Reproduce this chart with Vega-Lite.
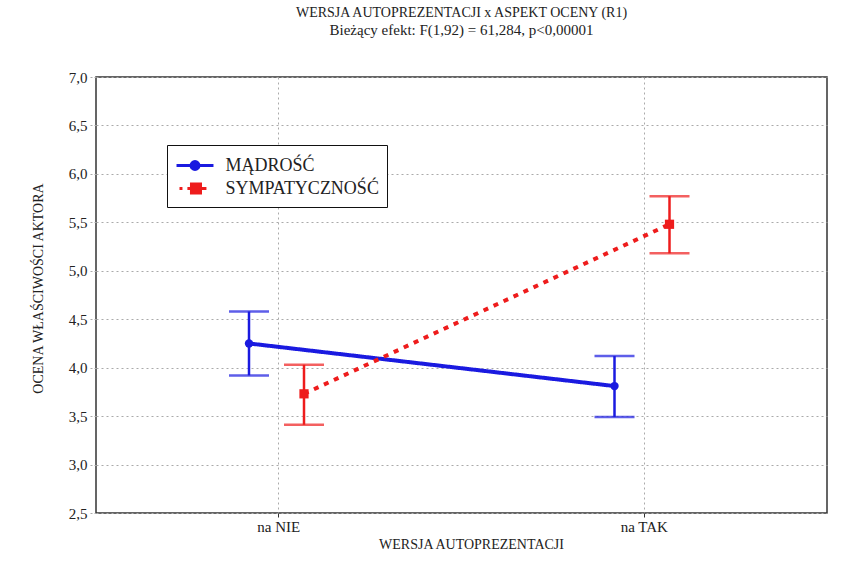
{
  "$schema": "https://vega.github.io/schema/vega-lite/v6.json",
  "width": 731,
  "height": 436,
  "autosize": {"type": "none"},
  "padding": {"left": 96, "top": 77, "right": 22, "bottom": 53},
  "background": "white",
  "title": {
    "text": "WERSJA AUTOPREZENTACJI x ASPEKT OCENY (R1)",
    "subtitle": "Bieżący efekt: F(1,92) = 61,284, p<0,00001",
    "font": "Liberation Serif",
    "fontSize": 14,
    "fontWeight": "normal",
    "subtitleFont": "Liberation Serif",
    "subtitleFontSize": 15,
    "color": "#222",
    "subtitleColor": "#222",
    "anchor": "middle",
    "offset": 32,
    "subtitlePadding": 3
  },
  "config": {
    "view": {"stroke": "#333", "strokeWidth": 1.5},
    "axis": {
      "labelFont": "Liberation Serif",
      "titleFont": "Liberation Serif",
      "labelColor": "#222",
      "titleColor": "#222",
      "titleFontWeight": "normal"
    }
  },
  "data": {
    "values": [
      {"aspekt": "MĄDROŚĆ", "wersja": "na NIE", "mean": 4.25, "lower": 3.92, "upper": 4.58},
      {"aspekt": "MĄDROŚĆ", "wersja": "na TAK", "mean": 3.81, "lower": 3.49, "upper": 4.12},
      {"aspekt": "SYMPATYCZNOŚĆ", "wersja": "na NIE", "mean": 3.73, "lower": 3.41, "upper": 4.03},
      {"aspekt": "SYMPATYCZNOŚĆ", "wersja": "na TAK", "mean": 5.48, "lower": 5.18, "upper": 5.77}
    ]
  },
  "encoding": {
    "x": {
      "field": "wersja",
      "type": "nominal",
      "scale": {"paddingInner": 0, "paddingOuter": 0},
      "axis": {
        "title": "WERSJA AUTOPREZENTACJI",
        "bandPosition": 0.5,
        "labelAngle": 0,
        "labelFontSize": 15,
        "titleFontSize": 14,
        "labelPadding": 2,
        "titlePadding": 3,
        "titleX": 375,
        "tickSize": 4,
        "tickColor": "#333",
        "domain": false,
        "grid": true,
        "gridDash": [2, 3],
        "gridColor": "#aaa"
      }
    },
    "xOffset": {"field": "aspekt", "type": "nominal", "scale": {"type": "point", "padding": 0, "range": [153, 208]}},
    "color": {
      "field": "aspekt",
      "type": "nominal",
      "scale": {"range": ["#1a1ae0", "#ee1c1c"]},
      "legend": {
        "title": null,
        "orient": "none",
        "legendX": 71,
        "legendY": 68,
        "fillColor": "white",
        "strokeColor": "#111",
        "padding": 8,
        "labelFont": "Liberation Serif",
        "labelFontSize": 18,
        "labelColor": "#222",
        "labelOffset": 18,
        "symbolOffset": 7.5,
        "rowPadding": 0,
        "symbolSize": 484,
        "symbolStrokeWidth": 3,
        "labelLimit": 300,
        "encoding": {
          "symbols": {
            "shape": {"value": {"expr": "datum.value == 'MĄDROŚĆ' ? 'M-1.68,0H1.68M-0.36,0A0.36,0.36,0,1,1,0.36,0A0.36,0.36,0,1,1,-0.36,0Z' : 'M-1.41,0H-1.14M-0.69,0H1.04M-0.32,-0.4H0.5V0.4H-0.32Z'"}},
            "stroke": {"value": {"expr": "scale('color', datum.value)"}},
            "fill": {"value": {"expr": "scale('color', datum.value)"}}
          }
        }
      }
    }
  },
  "layer": [
    {
      "mark": {"type": "rule", "strokeWidth": 2.5},
      "encoding": {
        "y": {
          "field": "lower",
          "type": "quantitative",
          "scale": {"domain": [2.5, 7], "nice": false, "zero": false},
          "axis": {
            "title": "OCENA WŁAŚCIWOŚCI AKTORA",
            "values": [2.5, 3, 3.5, 4, 4.5, 5, 5.5, 6, 6.5, 7],
            "labelExpr": "replace(format(datum.value, '.1f'), '.', ',')",
            "labelFontSize": 15,
            "titleFontSize": 14,
            "labelPadding": 3,
            "tickSize": 6,
            "tickDash": [2, 2],
            "tickColor": "#aaa",
            "domain": false,
            "grid": true,
            "gridDash": [2, 3],
            "gridColor": "#aaa",
            "titleX": -58,
            "titleY": 211,
            "titleAngle": -90,
            "titleAlign": "center",
            "titleBaseline": "middle"
          }
        },
        "y2": {"field": "upper"}
      }
    },
    {
      "mark": {"type": "tick", "thickness": 2.5, "size": 40},
      "encoding": {
        "y": {"field": "lower", "type": "quantitative"}
      }
    },
    {
      "mark": {"type": "tick", "thickness": 2.5, "size": 40},
      "encoding": {
        "y": {"field": "upper", "type": "quantitative"}
      }
    },
    {
      "mark": {"type": "line", "strokeWidth": 4},
      "encoding": {
        "y": {"field": "mean", "type": "quantitative"},
        "strokeDash": {"field": "aspekt", "type": "nominal", "scale": {"range": [[1, 0], [5, 6]]}, "legend": null}
      }
    },
    {
      "mark": {"type": "point", "filled": true, "opacity": 1},
      "encoding": {
        "y": {"field": "mean", "type": "quantitative"},
        "shape": {"field": "aspekt", "type": "nominal", "scale": {"range": ["circle", "square"]}, "legend": null},
        "size": {"field": "aspekt", "type": "nominal", "scale": {"range": [70, 85]}, "legend": null}
      }
    }
  ]
}
